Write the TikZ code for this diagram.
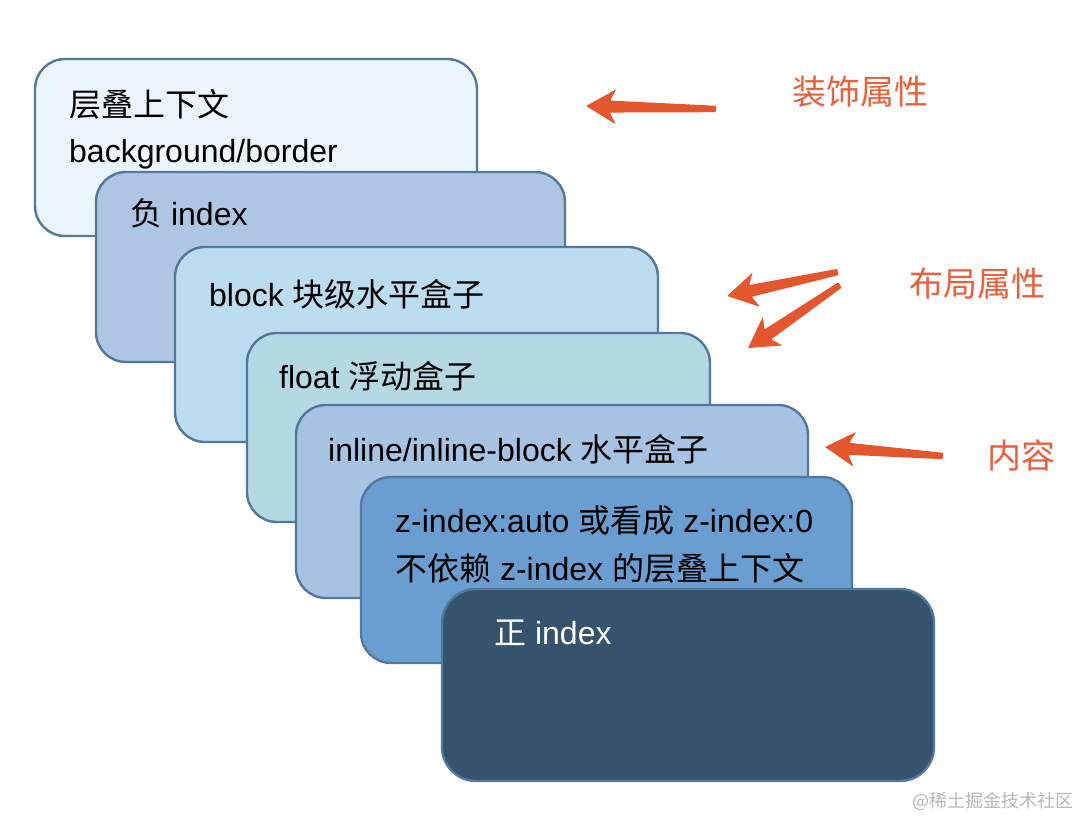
\documentclass[tikz,border=0pt]{standalone}
\usepackage{fontspec}
\setmainfont{Liberation Sans}
\newfontfamily\cjk{Noto Sans CJK SC}
\usetikzlibrary{calc}
\definecolor{bordc}{HTML}{54789C}
\definecolor{cA}{HTML}{EAF5FC}
\definecolor{cB}{HTML}{AEC5E3}
\definecolor{cC}{HTML}{BCDCEF}
\definecolor{cD}{HTML}{B5D9E3}
\definecolor{cE}{HTML}{A7C3E3}
\definecolor{cF}{HTML}{6A9ED1}
\definecolor{cG}{HTML}{36536E}
\definecolor{arrc}{HTML}{E4572E}
\definecolor{lblc}{HTML}{E8603C}
\definecolor{wmc}{HTML}{B8B8B8}
\newcommand\fatarrow[2]{%
  \coordinate (#1B) at ($(#2)!24pt!(#1)$);
  \coordinate (#1W) at ($(#2)!30pt!(#1)$);
  \fill[arrc, rounded corners=1pt] ($(#1)!3.2pt!90:(#2)$) -- ($(#1B)!6pt!90:(#2)$) -- ($(#1W)!17.5pt!90:(#2)$) -- (#2)
    -- ($(#1W)!17.5pt!-90:(#2)$) -- ($(#1B)!6pt!-90:(#2)$) -- ($(#1)!3.2pt!-90:(#2)$) -- cycle;
}
\begin{document}
\begin{tikzpicture}[x=1pt,y=-1pt,
  box/.style={draw=bordc, line width=2.4pt, rounded corners=30pt},
  lbl/.style={anchor=base west, inner sep=0pt, font=\fontsize{32}{38}\selectfont},
  olbl/.style={anchor=west, inner sep=0pt, text=lblc, font=\cjk\fontsize{34}{40}\selectfont}]
\useasboundingbox (0,0) rectangle (1080,818);
\fill[white] (0,0) rectangle (1080,818);
% boxes
\path[box, fill=cA] (35,59) rectangle (477,236);
\path[box, fill=cB] (96,172) rectangle (565,362);
\path[box, fill=cC] (175,247) rectangle (658,442);
\path[box, fill=cD] (247,333) rectangle (710,522);
\path[box, fill=cE] (296,405) rectangle (808,598);
\path[box, fill=cF] (361,477) rectangle (852,663);
\path[box, fill=cG, rounded corners=34pt] (442,589) rectangle (934,781);
% texts
\node[lbl] (t1a) at (69,117) {\cjk 层叠上下文};
\node[lbl] (t1b) at (69,163) {background/border};
\node[lbl] (t2) at (130,226) {{\cjk 负} index};
\node[lbl] (t3) at (209,307) {block {\cjk 块级水平盒子}};
\node[lbl] (t4) at (279,389) {float {\cjk 浮动盒子}};
\node[lbl] (t5) at (328,462) {inline/inline-block {\cjk 水平盒子}};
\node[lbl] (t6a) at (395,532) {z-index:auto {\cjk 或看成} z-index:0};
\node[lbl] (t6b) at (395,580) {{\cjk 不依赖} z-index {\cjk 的层叠上下文}};
\node[lbl, text=white] (t7) at (494,644) {{\cjk 正} index};
% labels
\node[olbl] (d1) at (792,92) {装饰属性};
\node[olbl] (d2) at (909,284) {布局属性};
\node[olbl] (d3) at (987,455) {内容};
% arrows
\coordinate (a1t) at (716,109); \coordinate (a1p) at (586,106);
\coordinate (a2t) at (838,272); \coordinate (a2p) at (727,296);
\coordinate (a3t) at (840,285); \coordinate (a3p) at (748,348);
\coordinate (a4t) at (943,456); \coordinate (a4p) at (825,447);
\fatarrow{a1t}{a1p}
\fatarrow{a2t}{a2p}
\fatarrow{a3t}{a3p}
\fatarrow{a4t}{a4p}
% watermark
\node[anchor=east, inner sep=0pt, text=wmc, font=\cjk\fontsize{18}{20}\selectfont] (wm) at (1074,801) {@稀土掘金技术社区};
\end{tikzpicture}
\end{document}
